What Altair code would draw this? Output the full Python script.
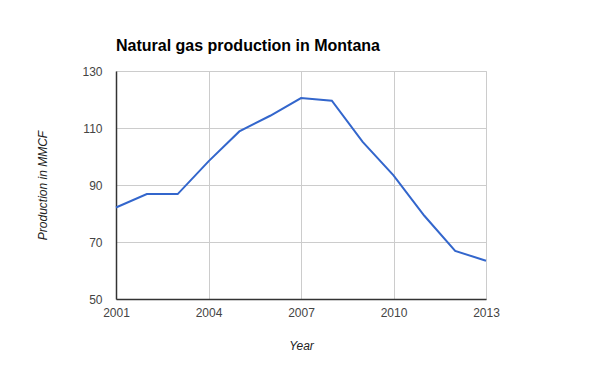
import altair as alt
import pandas as pd

years = [2001, 2002, 2003, 2004, 2005, 2006, 2007, 2008, 2009, 2010, 2011, 2012, 2013]
production = [82.1, 86.8, 86.8, 98.3, 108.8, 114.3, 120.5, 119.6, 105.1, 93.4, 79.2, 66.9, 63.4]
x_ticks = [2001, 2004, 2007, 2010, 2013]
y_ticks = [50, 70, 90, 110, 130]

df = pd.DataFrame({"Year": years, "Production": production})

FONT = "Liberation Sans"

chart = alt.Chart(df).mark_line(color="#3366cc", strokeWidth=2).encode(
    x=alt.X("Year:Q",
            scale=alt.Scale(domain=[2001, 2013], nice=False, zero=False),
            axis=alt.Axis(values=x_ticks, format="d", title="Year",
                          titleX=185, titleY=46, titleBaseline="middle",
                          titleAlign="center", titleAngle=0,
                          labelFlush=False)),
    y=alt.Y("Production:Q",
            scale=alt.Scale(domain=[50, 130], nice=False, zero=False),
            axis=alt.Axis(values=y_ticks, title="Production in MMCF",
                          titleX=-74, titleY=114, titleAngle=-90,
                          titleAlign="center", titleBaseline="middle",
                          labelFlush=False)),
).properties(
    width=370,
    height=228,
    title=alt.TitleParams("Natural gas production in Montana", anchor="start",
                          fontSize=16, fontWeight="bold", font=FONT,
                          color="#000000", offset=12, baseline="alphabetic",
                          frame="group", dy=14),
    autosize=alt.AutoSizeParams(type="none"),
    padding={"left": 108, "top": 63, "right": 106, "bottom": 56},
).configure_view(
    stroke="#cccccc", strokeWidth=1
).configure_axis(
    labelFont=FONT, labelFontSize=12, labelColor="#444444",
    titleFont=FONT, titleFontSize=12, titleColor="#222222",
    titleFontStyle="italic", titleFontWeight="normal",
    gridColor="#cccccc", gridWidth=1, grid=True,
    domainColor="#333333", domainWidth=1.5,
    ticks=False,
).configure_axisY(
    labelPadding=14, labelBaseline="middle"
).configure_axisX(
    labelPadding=8
)

chart.save("out.html", embed_options={"renderer": "svg", "actions": False})
